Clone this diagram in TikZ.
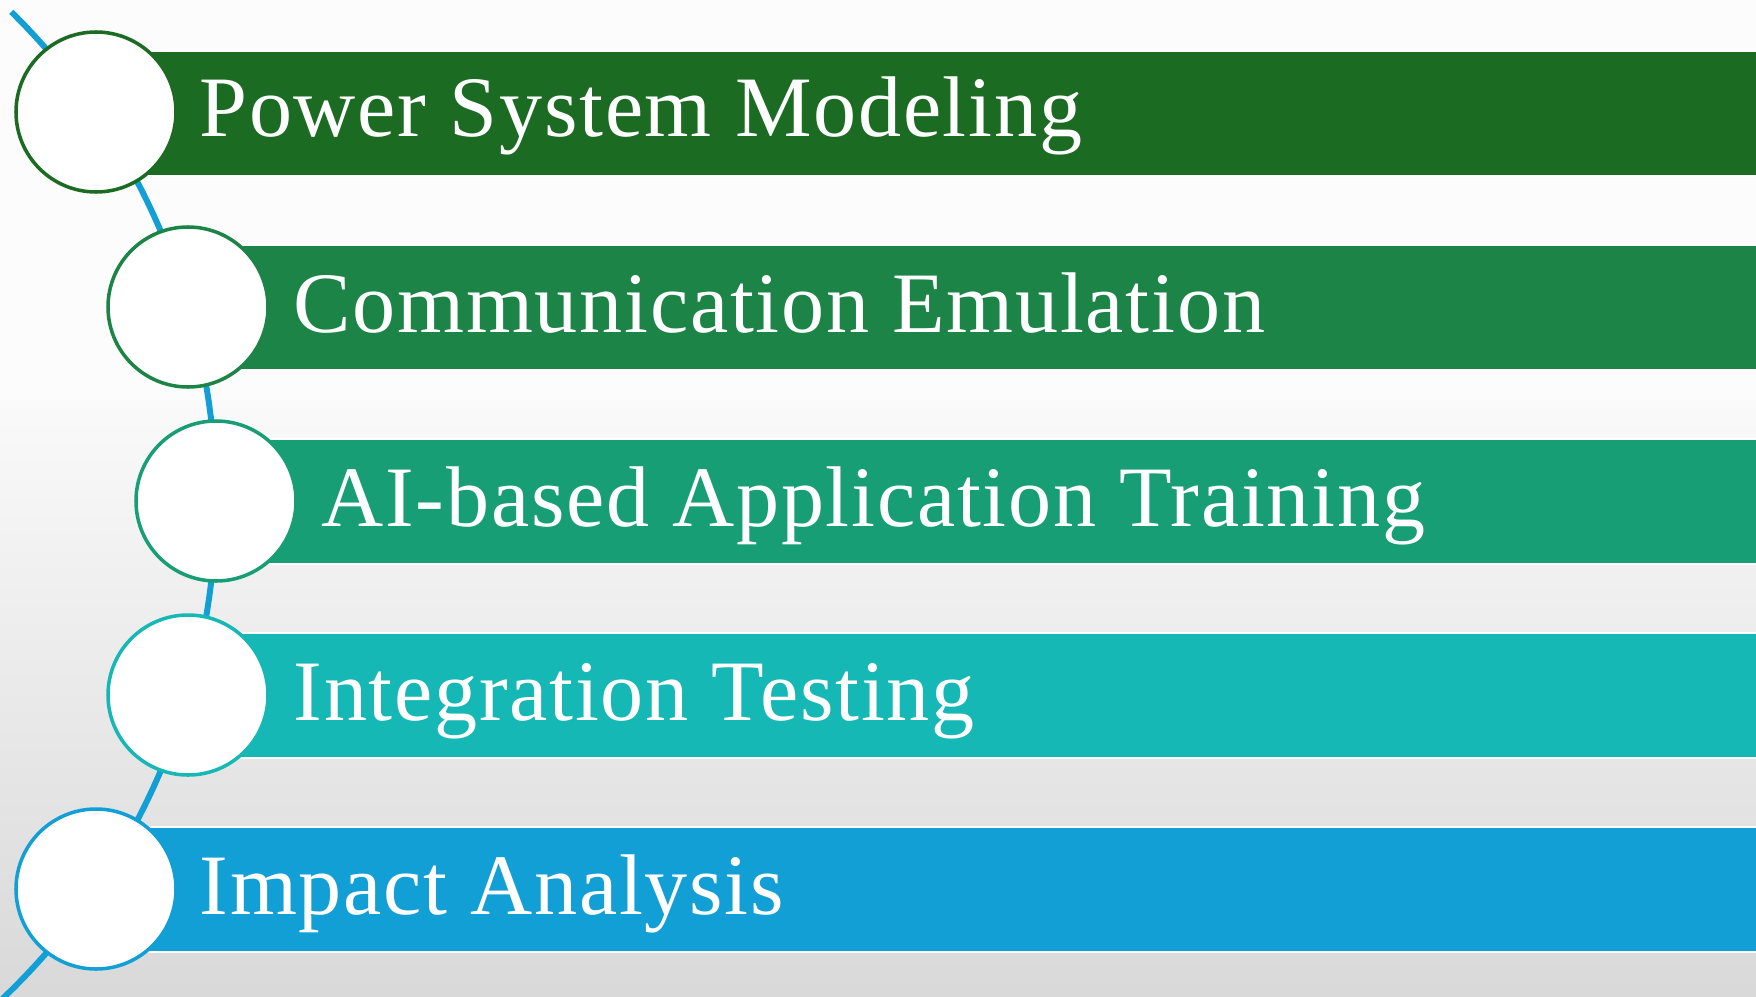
\documentclass[tikz,border=0pt]{standalone}
\usepackage{fontspec}
\setmainfont{Liberation Serif}
\usepackage{tikz}

\definecolor{rowA}{HTML}{1B6B23}
\definecolor{rowB}{HTML}{1B8446}
\definecolor{rowC}{HTML}{189E75}
\definecolor{rowD}{HTML}{16B8B6}
\definecolor{rowE}{HTML}{119FD6}
\definecolor{spine}{HTML}{129FD6}

\begin{document}
\begin{tikzpicture}[
    stagecircle/.style={circle, fill=white, line width=1pt, minimum size=1.6cm, inner sep=0pt},
    stagetext/.style={anchor=base west, text=white, inner sep=0pt,
        font=\fontsize{24.5}{28}\selectfont\addfontfeature{LetterSpace=2}}
]

% page and background
\useasboundingbox (0,0) rectangle (17.56,-9.96);
\fill[white!99!black] (0,0) rectangle (17.56,-4.0);
\shade[top color=white!98!black, bottom color=white!85!black] (0,-4.0) rectangle (17.56,-9.96);

% spine arc behind the circles
\begin{scope}
\clip (0,0) rectangle (17.56,-9.96);
\draw[spine, line width=1.7pt] (-4.71,-5.01) ++(45.4:6.87) arc[start angle=45.4, end angle=-46.5, radius=6.87];
\end{scope}

% bands
\fill[rowA, draw=white, line width=0.4pt] (0.96,-0.51) rectangle (17.6,-1.76);
\fill[rowB, draw=white, line width=0.4pt] (1.88,-2.45) rectangle (17.6,-3.70);
\fill[rowC, draw=white, line width=0.4pt] (2.16,-4.39) rectangle (17.6,-5.64);
\fill[rowD, draw=white, line width=0.4pt] (1.88,-6.33) rectangle (17.6,-7.58);
\fill[rowE, draw=white, line width=0.4pt] (0.96,-8.27) rectangle (17.6,-9.52);

% circles
\node[stagecircle, draw=rowA] (s1) at (0.96,-1.12) {};
\node[stagecircle, draw=rowB] (s2) at (1.88,-3.07) {};
\node[stagecircle, draw=rowC] (s3) at (2.16,-5.01) {};
\node[stagecircle, draw=rowD] (s4) at (1.88,-6.95) {};
\node[stagecircle, draw=rowE] (s5) at (0.96,-8.89) {};

% labels
\node[stagetext] (t1) at (1.99,-1.37) {Power System Modeling};
\node[stagetext] (t2) at (2.93,-3.32) {Communication Emulation};
\node[stagetext] (t3) at (3.21,-5.26) {AI-based Application Training};
\node[stagetext] (t4) at (2.93,-7.20) {Integration Testing};
\node[stagetext] (t5) at (1.99,-9.14) {Impact Analysis};

\end{tikzpicture}
\end{document}
